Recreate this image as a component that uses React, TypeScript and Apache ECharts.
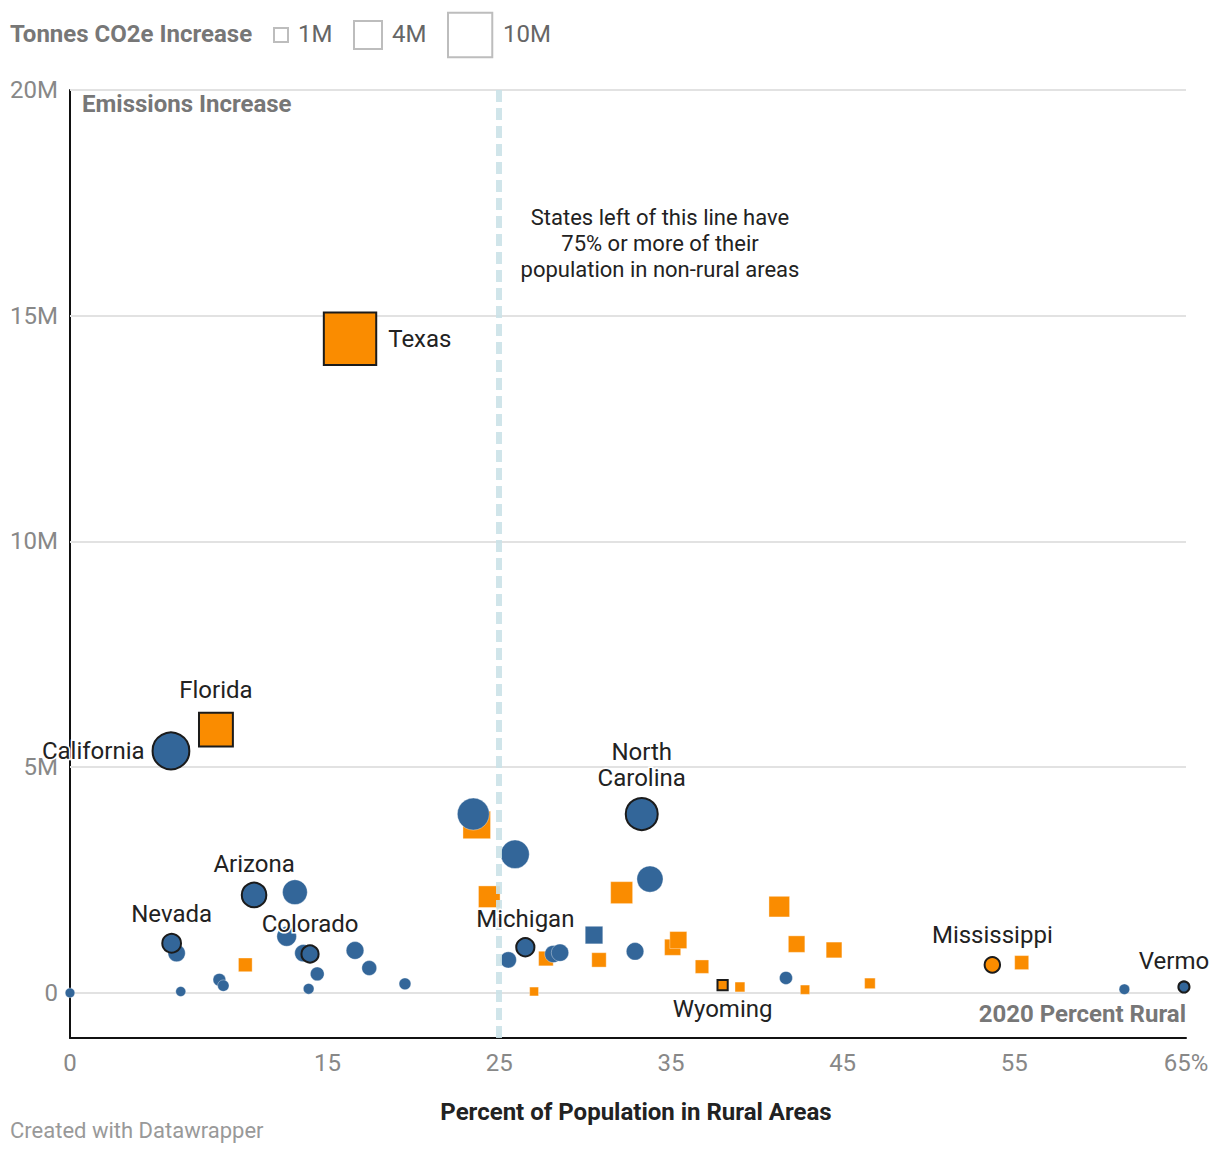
import React, { useEffect, useRef } from "react";
import * as echarts from "echarts";

// ---- Data ----
const pctRural = [0, 5.88, 5.92, 6.21, 6.45, 8.5, 8.7, 8.93, 10.21, 10.72, 12.62, 13.1, 13.59, 13.98, 13.9, 14.4, 16.31, 16.6, 17.43, 19.51, 23.49, 23.69, 24.42, 25.53, 25.92, 26.52, 27.03, 27.72, 28.15, 28.54, 30.52, 30.81, 32.13, 32.91, 33.3, 33.78, 35.1, 35.43, 36.81, 38.01, 39.02, 41.31, 41.7, 42.32, 42.81, 44.5, 46.59, 53.72, 55.43, 61.41, 64.88];
const emissionsM = [0.0, 5.36, 1.1, 0.88, 0.03, 5.83, 0.29, 0.16, 0.62, 2.17, 1.25, 2.23, 0.88, 0.86, 0.09, 0.42, 14.49, 0.94, 0.55, 0.2, 3.96, 3.72, 2.13, 0.73, 3.07, 1.01, 0.03, 0.76, 0.86, 0.89, 1.28, 0.73, 2.22, 0.92, 3.96, 2.52, 1.01, 1.17, 0.58, 0.17, 0.13, 1.91, 0.33, 1.08, 0.07, 0.95, 0.21, 0.62, 0.67, 0.08, 0.13];
const colorGroup = ["blue", "blue", "blue", "blue", "blue", "orange", "blue", "blue", "orange", "blue", "blue", "blue", "blue", "blue", "blue", "blue", "orange", "blue", "blue", "blue", "blue", "orange", "orange", "blue", "blue", "blue", "orange", "orange", "blue", "blue", "blue", "orange", "orange", "blue", "blue", "blue", "orange", "orange", "orange", "orange", "orange", "orange", "blue", "orange", "orange", "orange", "orange", "orange", "orange", "blue", "blue"];
const shapeGroup = ["circle", "circle", "circle", "circle", "circle", "square", "circle", "circle", "square", "circle", "circle", "circle", "circle", "circle", "circle", "circle", "square", "circle", "circle", "circle", "circle", "square", "square", "circle", "circle", "circle", "square", "square", "circle", "circle", "square", "square", "square", "circle", "circle", "circle", "square", "square", "square", "square", "square", "square", "circle", "square", "square", "square", "square", "circle", "square", "circle", "circle"];
const stateLabels = ["", "California", "Nevada", "", "", "Florida", "", "", "", "Arizona", "", "", "", "Colorado", "", "", "Texas", "", "", "", "", "", "", "", "", "Michigan", "", "", "", "", "", "", "", "", "North\nCarolina", "", "", "", "", "Wyoming", "", "", "", "", "", "", "", "Mississippi", "", "", "Vermo"];

const xTickValues = [0, 15, 25, 35, 45, 55, 65];
const xTickLabels = ["0", "15", "25", "35", "45", "55", "65%"];
const yTickValues = [0, 5, 10, 15, 20];
const yTickLabels = ["0", "5M", "10M", "15M", "20M"];
const thresholdRural = [25];
const legendValues = [1, 4, 10];
const legendLabels = ["1M", "4M", "10M"];

// ---- Styles ----
const FONT = "Roboto, 'Noto Sans', sans-serif";
const COLORS: Record<string, string> = { blue: "#336699", orange: "#fa8c00" };

const labelStyle: Record<string, any> = {
  Texas: { position: "right", distance: 11 },
  Florida: { position: "top", distance: 9 },
  California: { position: "left", distance: 7 },
  "North\nCarolina": { position: "top", distance: 6 },
  Arizona: { position: "top", distance: 5 },
  Nevada: { position: "top", distance: 6 },
  Colorado: { position: "top", distance: 7 },
  Michigan: { position: "top", distance: 5 },
  Wyoming: { position: "bottom", distance: 5 },
  Mississippi: { position: "top", distance: 8 },
  Vermo: { position: "top", distance: 6, offset: [-10, 0] },
};

function symbolSizeFor(v: number, shape: string) {
  const d = Math.sqrt(93 + 235 * v);
  return shape === "square" ? d * 0.886 : d;
}

function orderedIndices() {
  const idx = pctRural.map((_, i) => i);
  const rank = (i: number) => {
    if (stateLabels[i]) return 3;
    if (shapeGroup[i] === "square") return colorGroup[i] === "orange" ? 0 : 1;
    return 2;
  };
  idx.sort((a, b) => rank(a) - rank(b) || a - b);
  return idx;
}

function buildPoints() {
  return orderedIndices().map((i) => {
    const hl = !!stateLabels[i];
    return {
      value: [pctRural[i], emissionsM[i]],
      symbol: shapeGroup[i] === "square" ? "rect" : "circle",
      symbolSize: symbolSizeFor(emissionsM[i], shapeGroup[i]),
      itemStyle: {
        color: COLORS[colorGroup[i]],
        borderColor: hl ? "#1b1b1b" : "rgba(255,255,255,0.6)",
        borderWidth: hl ? 2 : 0.6,
        opacity: 1,
      },
    };
  });
}

function buildLabels() {
  return pctRural
    .map((_, i) => i)
    .filter((i) => !!stateLabels[i])
    .map((i) => {
      const ls = labelStyle[stateLabels[i]] || {};
      return {
        value: [pctRural[i], emissionsM[i]],
        symbol: shapeGroup[i] === "square" ? "rect" : "circle",
        symbolSize: symbolSizeFor(emissionsM[i], shapeGroup[i]) + 2,
        itemStyle: { color: "rgba(0,0,0,0)", borderWidth: 0, opacity: 1 },
        label: {
          show: true,
          formatter: stateLabels[i],
          position: ls.position,
          distance: ls.distance,
          offset: ls.offset || [0, 0],
          color: "#222",
          fontSize: 24,
          lineHeight: 26,
          align: ls.position === "left" ? "right" : ls.position === "right" ? "left" : "center",
          fontFamily: FONT,
          textBorderColor: "#fff",
          textBorderWidth: 3,
        },
      };
    });
}

export default function App() {
  const ref = useRef<HTMLDivElement>(null);
  useEffect(() => {
    if (!ref.current) return;
    const chart = echarts.init(ref.current, undefined, { renderer: "svg" });

    const legendGraphics: any[] = [];
    const legendX = [273, 353, 447];
    const legendTextX = [298, 392, 503];
    legendValues.forEach((v, k) => {
      const s = 14 * Math.sqrt(v);
      legendGraphics.push({
        type: "rect",
        left: legendX[k],
        top: 34 - s / 2,
        shape: { width: s, height: s },
        style: { fill: "#fff", stroke: "#bdbdbd", lineWidth: 2 },
      });
      legendGraphics.push({
        type: "text",
        x: legendTextX[k],
        y: 34,
        style: { text: legendLabels[k], fill: "#666", fontSize: 24, fontFamily: FONT, verticalAlign: "middle" },
      });
    });

    const option: any = {
      animation: false,
      backgroundColor: "#fff",
      textStyle: { fontFamily: FONT },
      grid: { left: 70, right: 34, top: 90, bottom: 118, containLabel: false },
      xAxis: {
        type: "value",
        min: 0,
        max: 65,
        interval: 5,
        axisLine: { show: true, onZero: false, lineStyle: { color: "#111", width: 2 } },
        axisTick: { show: false },
        splitLine: { show: false },
        axisLabel: {
          color: "#888",
          fontSize: 24,
          fontFamily: FONT,
          margin: 13,
          formatter: (v: number) => {
            const k = xTickValues.indexOf(Math.round(v));
            return k >= 0 ? xTickLabels[k] : "";
          },
        },
      },
      yAxis: {
        type: "value",
        min: -1,
        max: 20,
        interval: 1,
        axisLine: { show: true, onZero: false, lineStyle: { color: "#111", width: 2 } },
        axisTick: { show: false },
        splitLine: { show: false },
        axisLabel: {
          color: "#888",
          fontSize: 24,
          fontFamily: FONT,
          margin: 12,
          formatter: (v: number) => {
            const k = yTickValues.indexOf(Math.round(v));
            return k >= 0 ? yTickLabels[k] : "";
          },
        },
      },
      series: [
        {
          type: "scatter",
          name: "gridlines",
          data: [],
          silent: true,
          z: 1,
          markLine: {
            silent: true,
            z: 1,
            symbol: ["none", "none"],
            label: { show: false },
            lineStyle: { color: "#e2e2e2", width: 2, type: "solid" },
            data: yTickValues.map((v) => ({ yAxis: v })),
          },
        },
        {
          type: "scatter",
          name: "states",
          z: 2,
          clip: false,
          silent: true,
          emphasis: { disabled: true },
          itemStyle: { opacity: 1 },
          data: buildPoints(),
        },
        {
          type: "scatter",
          name: "threshold",
          data: [],
          silent: true,
          z: 3,
          markLine: {
            silent: true,
            z: 3,
            symbol: ["none", "none"],
            label: { show: false },
            lineStyle: { color: "#cbe2e8", width: 6, type: [12, 6], opacity: 0.9 },
            data: thresholdRural.map((v) => ({ xAxis: v })),
          },
        },
        {
          type: "scatter",
          name: "labels",
          z: 4,
          clip: false,
          silent: true,
          emphasis: { disabled: true },
          data: buildLabels(),
        },
      ],
      graphic: [
        {
          type: "text",
          x: 10,
          y: 34,
          style: { text: "Tonnes CO2e Increase", fill: "#777", fontSize: 24, fontWeight: "bold", fontFamily: FONT, verticalAlign: "middle" },
        },
        ...legendGraphics,
        {
          type: "text",
          x: 82,
          y: 104,
          style: { text: "Emissions Increase", fill: "#777", fontSize: 24, fontWeight: "bold", fontFamily: FONT, verticalAlign: "middle" },
        },
        {
          type: "text",
          x: 660,
          y: 243,
          style: {
            text: "States left of this line have\n75% or more of their\npopulation in non-rural areas",
            fill: "#222",
            fontSize: 22,
            lineHeight: 26,
            align: "center",
            verticalAlign: "middle",
            fontFamily: FONT,
          },
        },
        {
          type: "text",
          x: 1186,
          y: 1014,
          style: {
            text: "2020 Percent Rural",
            fill: "#777",
            fontSize: 24,
            fontWeight: "bold",
            align: "right",
            verticalAlign: "middle",
            fontFamily: FONT,
          },
        },
        {
          type: "text",
          x: 636,
          y: 1112,
          style: {
            text: "Percent of Population in Rural Areas",
            fill: "#222",
            fontSize: 24,
            fontWeight: "bold",
            align: "center",
            verticalAlign: "middle",
            fontFamily: FONT,
          },
        },
        {
          type: "text",
          x: 10,
          y: 1130,
          style: {
            text: "Created with Datawrapper",
            fill: "#999",
            fontSize: 22,
            align: "left",
            verticalAlign: "middle",
            fontFamily: FONT,
          },
        },
      ],
    };
    chart.setOption(option);
    return () => chart.dispose();
  }, []);

  return (
    <div
      ref={ref}
      style={{ position: "absolute", left: 0, top: 0, width: 1220, height: 1156, background: "#fff" }}
    />
  );
}
